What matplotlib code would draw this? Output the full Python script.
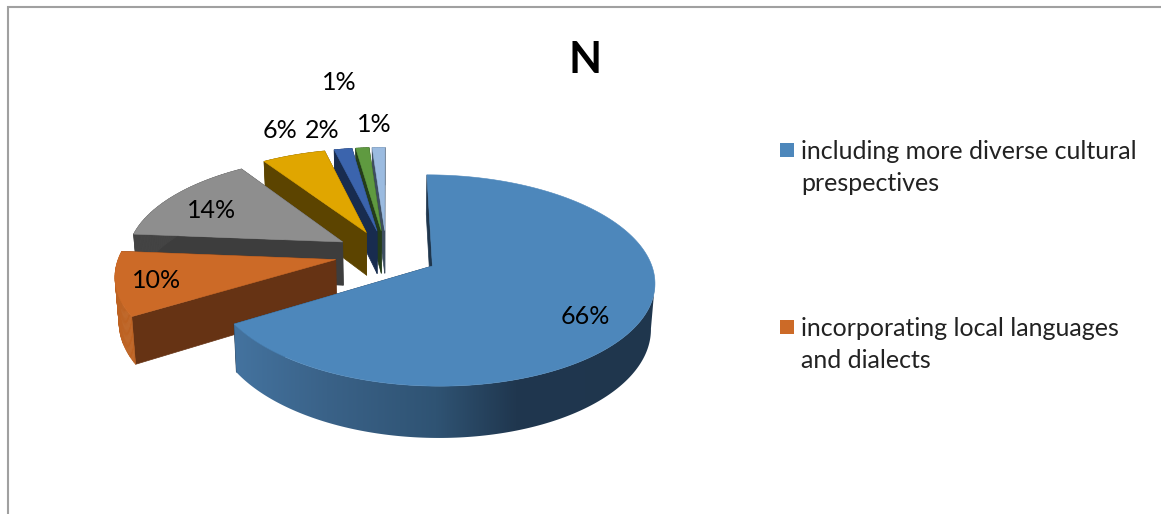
import numpy as np
import matplotlib
matplotlib.use("Agg")
import matplotlib.pyplot as plt
from matplotlib.patches import Polygon, Rectangle
from matplotlib.colors import LinearSegmentedColormap

# Series data, in drawing order clockwise from twelve o'clock
shares = [66.3, 10, 14.4, 5.5, 1.55, 1.15, 1.1]
legend_labels = ["including more diverse cultural\nprespectives",
                 "incorporating local languages\nand dialects"]
title_text = "N"

# Slice colours: top face, radial wall, outer wall
top_colors = ["#4d87bb", "#cc6a27", "#8e8e8e", "#e0a600", "#3b64ad", "#5f9a40", "#9bbbe0"]
side_colors = ["#1f364d", "#663314", "#3d3d3d", "#5c4400", "#182c4f", "#243d1a", "#3e4e60"]
rim_colors = [None, "#bd6222", "#444444", "#5c4400", "#182c4f", "#243d1a", "#3e4e60"]

# Label centres in figure pixels
label_xy = [(585, 317), (157, 280), (212, 211), (280, 131), (322, 130), (339, 83), (374, 125)]

# Projection of the pie plane on the canvas (pixels)
X0, Y0 = 386.5, 254.0
SCALE_X, SCALE_Y = 216.0, 100.4
PERSPECTIVE = 0.135
DEPTH = 44.0
LOWER_SHRINK = 0.985
EXPLODE = 0.24


def project(u, v, lower=False):
    """Map pie-plane coordinates to canvas pixels, on the top or bottom face."""
    w = 1 + PERSPECTIVE * v
    x = SCALE_X * u / w
    y = -SCALE_Y * v / w
    if lower:
        return X0 + x * LOWER_SHRINK, Y0 + y + DEPTH / w
    return X0 + x, Y0 + y


# The outer wall of the large slice darkens towards the right
rim_cmap = LinearSegmentedColormap.from_list(
    "rim",
    [(0.0, "#44739f"), (0.22, "#3a6288"), (0.48, "#2f5373"), (0.67, "#20374f"), (1.0, "#1f364d")],
)

fig = plt.figure(figsize=(11.61, 5.14), dpi=100, facecolor="white")
ax = fig.add_axes([0, 0, 1, 1])
ax.set_xlim(0, 1161)
ax.set_ylim(514, 0)
ax.axis("off")

# Chart frame: only the top and left borders show
ax.plot([7.5, 7.5, 1161], [514, 6.5, 6.5], color="#a0a0a0", lw=1.5, solid_joinstyle="miter")

edges = np.cumsum([0] + shares) / sum(shares) * 2 * np.pi

# Painter's order: back slices first, the large front slice last
for i in [6, 5, 4, 3, 2, 1, 0]:
    a0, a1 = edges[i], edges[i + 1]
    mid = (a0 + a1) / 2
    cu, cv = EXPLODE * np.sin(mid), EXPLODE * np.cos(mid)
    t = np.linspace(a0, a1, max(int((a1 - a0) * 60), 6))
    us, vs = cu + np.sin(t), cv + np.cos(t)
    z = 1.5 if i == 0 else 1

    # Radial walls
    for a in (a0, a1):
        eu, ev = cu + np.sin(a), cv + np.cos(a)
        quad = [project(cu, cv), project(eu, ev), project(eu, ev, True), project(cu, cv, True)]
        ax.add_patch(Polygon(quad, closed=True, fc=side_colors[i], ec=side_colors[i], lw=0.5,
                             zorder=z))

    # Outer wall
    upper = [project(a, b) for a, b in zip(us, vs)]
    below = [project(a, b, True) for a, b in zip(us, vs)]
    if rim_colors[i]:
        for j in range(len(t) - 1):
            quad = [upper[j], upper[j + 1], below[j + 1], below[j]]
            ax.add_patch(Polygon(quad, closed=True, fc=rim_colors[i], ec=rim_colors[i], lw=0.4))
    else:
        # Only the part from the rightmost point onward faces the viewer
        start = int(np.argmax([p[0] for p in upper]))
        rim = upper[start:] + below[start:][::-1]
        rim_patch = Polygon(rim, closed=True, fc="none", ec="none")
        ax.add_patch(rim_patch)
        left = min(p[0] for p in rim)
        right = max(p[0] for p in rim)
        image = ax.imshow(np.linspace(0, 1, 256)[None, :], cmap=rim_cmap, aspect="auto",
                          extent=(left, right, 514, 0), interpolation="bilinear", zorder=z)
        image.set_clip_path(rim_patch)
        ax.set_xlim(0, 1161)
        ax.set_ylim(514, 0)

    # Top face
    outline = [project(cu, cv)] + upper
    ax.add_patch(Polygon(outline, closed=True, fc=top_colors[i], ec=top_colors[i], lw=0.4,
                         zorder=z))

# Percentage labels
for share, (x, y) in zip(shares, label_xy):
    ax.text(x, y, f"{share:.0f}%", ha="center", va="center", fontsize=18, family="Lato",
            color="black", zorder=3)

# Title
ax.text(585, 60, title_text, ha="center", va="center", fontsize=31, family="Lato",
        fontweight="bold", color="black")

# Legend
for text, color, key_y, text_y in zip(legend_labels, top_colors, [150, 327], [167.5, 344.5]):
    ax.add_patch(Rectangle((780, key_y - 7), 14, 14, fc=color, ec="none"))
    ax.text(801, text_y, text, ha="left", va="center", fontsize=18, family="Lato",
            color="#222222", linespacing=1.5)

fig.savefig("out.png", dpi=100, facecolor="white")
